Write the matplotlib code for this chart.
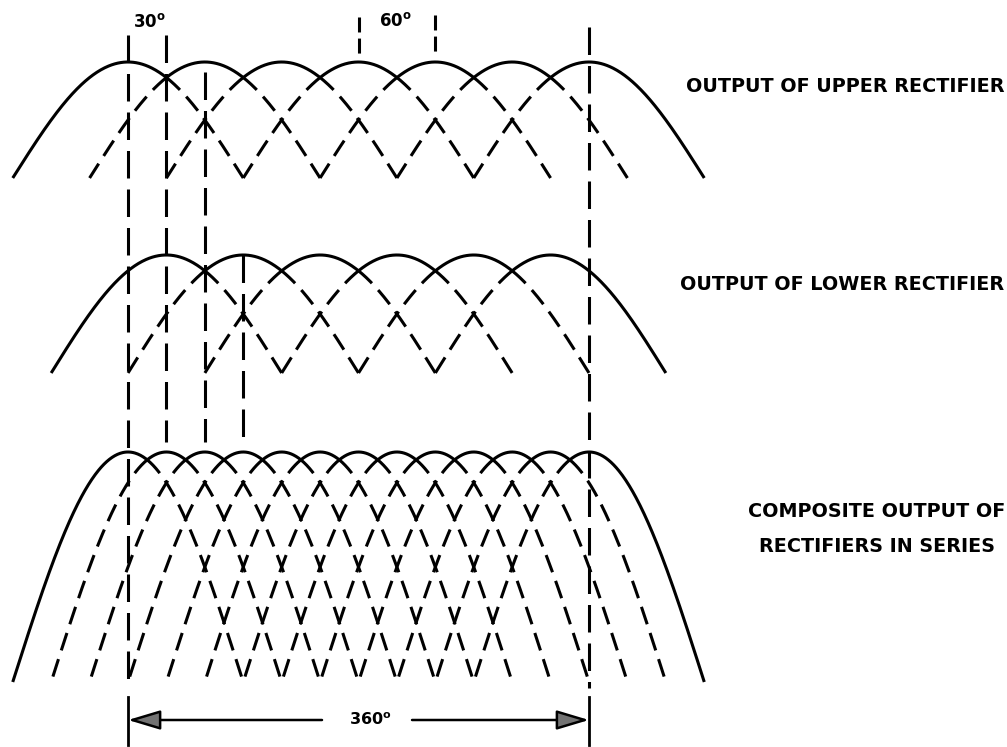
import matplotlib
matplotlib.use("Agg")
import matplotlib.pyplot as plt
import numpy as np

# phase angles (degrees) of the peaks of each rectifier output
upper_peaks = [0, 60, 120, 180, 240, 300, 360]
lower_peaks = [30, 90, 150, 210, 270, 330]
composite_peaks = sorted(upper_peaks + lower_peaks)
half_span = 90  # each pulse is drawn as a half sine wave, +/- 90 deg

# guide lines and the angle labels
guide_angles = [0, 30, 60, 90, 180, 240, 360]
angle_labels = ["30", "60"]
span_label = "360"

panel_labels = ["OUTPUT OF UPPER RECTIFIER",
                "OUTPUT OF LOWER RECTIFIER",
                "COMPOSITE OUTPUT OF\nRECTIFIERS IN SERIES"]

# layout (pixel rows, figure is 1007x747)
PX_PER_DEG = 1.2806
X0 = 128
panels = {"upper": (178, 116), "lower": (373, 118), "composite": (682, 230)}
guide_rows = {0: (35, 688), 30: (35, 442), 60: (72, 442), 90: (255, 440),
              180: (17, 55), 240: (15, 55), 360: (27, 688)}

LW = 2.2
curve_dash = (0, (6, 3))
guide_dash = (0, (9, 3.6))
short_dash = (0, (4.9, 2.0))

fig = plt.figure(figsize=(10.07, 7.47), dpi=100)
ax = fig.add_axes([0, 0, 1, 1])
ax.set_xlim(-X0 / PX_PER_DEG, (1007 - X0) / PX_PER_DEG)
ax.set_ylim(747, 0)
ax.axis("off")


def pulse(theta, peak, base, amp):
    return base - amp * np.cos(np.radians(theta - peak))


def draw_panel(peaks, base, amp):
    step = peaks[1] - peaks[0]
    for i, p in enumerate(peaks):
        lo, hi = p - half_span, p + half_span
        s_lo = lo if i == 0 else p - step / 2
        s_hi = hi if i == len(peaks) - 1 else p + step / 2
        t = np.linspace(s_lo, s_hi, 200)
        ax.plot(t, pulse(t, p, base, amp), color="black", lw=LW,
                solid_capstyle="butt", zorder=3)
        # dashed continuation, started from the cusp on each side
        if s_hi < hi:
            t = np.linspace(s_hi, hi, 200)
            ax.plot(t, pulse(t, p, base, amp), color="black", lw=LW,
                    linestyle=curve_dash, dash_capstyle="butt", zorder=2)
        if s_lo > lo:
            t = np.linspace(s_lo, lo, 200)
            ax.plot(t, pulse(t, p, base, amp), color="black", lw=LW,
                    linestyle=curve_dash, dash_capstyle="butt", zorder=2)


draw_panel(upper_peaks, *panels["upper"])
draw_panel(lower_peaks, *panels["lower"])
draw_panel(composite_peaks, *panels["composite"])

# vertical guide lines
for a in guide_angles:
    top, bot = guide_rows[a]
    ls = short_dash if a in (180, 240) else guide_dash
    ax.plot([a, a], [top, bot], color="black", lw=LW,
            linestyle=ls, dash_capstyle="butt", zorder=2)

# 360 degree dimension
for a in (0, 360):
    ax.plot([a, a], [697, 745], color="black", lw=2.0)
arrow_y = 720
gap = (151.5, 221.8)
arrow_kw = dict(arrowstyle="-|>,head_length=1.0,head_width=0.3",
                lw=1.8, fc="0.45", ec="black", mutation_scale=20,
                shrinkA=0, shrinkB=0)
ax.annotate("", xy=(0, arrow_y), xytext=(gap[0], arrow_y), arrowprops=arrow_kw)
ax.annotate("", xy=(360, arrow_y), xytext=(gap[1], arrow_y), arrowprops=arrow_kw)
ax.text(189, arrow_y, span_label + r"$^{\mathbf{o}}$", ha="center", va="center",
        fontsize=11.5, fontweight="bold")

# angle labels at the top
ax.text(17, 22, angle_labels[0] + r"$^{\mathbf{o}}$", ha="center", va="center",
        fontsize=12, fontweight="bold")
ax.text(208.5, 21, angle_labels[1] + r"$^{\mathbf{o}}$", ha="center", va="center",
        fontsize=12, fontweight="bold")

# panel labels (right side)
xr = (1004 - X0) / PX_PER_DEG
ax.text(xr, 87, panel_labels[0], ha="right", va="center",
        fontsize=13.8, fontweight="bold")
ax.text(xr, 285, panel_labels[1], ha="right", va="center",
        fontsize=13.8, fontweight="bold")
ax.text((877 - X0) / PX_PER_DEG, 529, panel_labels[2], ha="center", va="center",
        fontsize=13.8, fontweight="bold", linespacing=2.1)

fig.savefig("out.png", dpi=100)
